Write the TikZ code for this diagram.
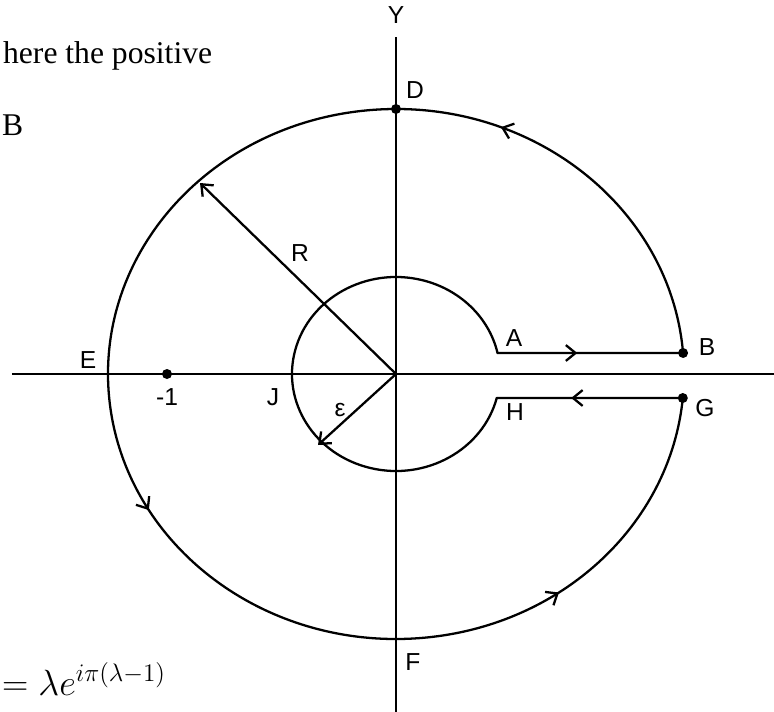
\documentclass[tikz,border=0pt]{standalone}
\usepackage{fontspec}
\setmainfont{Liberation Sans}
\newfontfamily\bodyserif{Liberation Serif}
\usepackage{amsmath}
\usepackage{tikz}
\usetikzlibrary{positioning}
\usetikzlibrary{calc}
\usetikzlibrary{arrows.meta}
\usetikzlibrary{decorations.markings}

\newcommand{\labelfont}{\fontsize{14}{16}\selectfont}

\begin{document}
\begin{tikzpicture}[x=0.02cm, y=0.02cm, line width=1.3pt,
    contour/.style={line join=round, line cap=round},
    flow/.style={postaction={decorate, decoration={markings,
        mark=at position #1 with {\arrow{Straight Barb[length=5.5pt,width=9pt]}}}}},
    radius arrow/.style={-{Straight Barb[length=5.5pt,width=9pt]}},
    axis/.style={line width=1.2pt},
    lab/.style={font=\labelfont, inner sep=0pt}]

    \clip (-396,-337) rectangle (378,374);

    % page text round the figure
    \node [font=\bodyserif\fontsize{18}{22}\selectfont, anchor=base west, inner sep=0pt] (txtA) at (-394,311) {here the positive};
    \node [font=\bodyserif\fontsize{18}{22}\selectfont, anchor=base west, inner sep=0pt] (txtB) at (-395,239) {B};
    \node [font=\fontsize{20}{24}\selectfont, anchor=base west, inner sep=0pt] (txtC) at (-395,-321) {$=\lambda e^{i\pi(\lambda-1)}$};

    % axes
    \coordinate (O) at (0,0);
    \coordinate (xl) at (-384,0);
    \coordinate (xr) at (380,0);
    \coordinate (yt) at (0,337);
    \coordinate (yb) at (0,-340);
    \draw [axis] (xl) -- (xr);
    \draw [axis] (yb) -- (yt);

    % contour points
    \coordinate (A) at (12.5:104 and 97);
    \coordinate (B) at (4.55:288 and 265);
    \coordinate (G) at (-5.2:288 and 265);
    \coordinate (H) at (-14.3:104 and 97);
    \coordinate (D) at (0,265);
    \coordinate (m1) at (-229,0);
    \coordinate (Rend) at (-196,191);
    \coordinate (Eend) at (-78,-71);

    \draw [contour, flow=0.43] (A) -- (B);
    \draw [contour, flow=0.181, flow=0.586, flow=0.859] (B) arc [start angle=4.55, end angle=354.8, x radius=288, y radius=265];
    \draw [contour, flow=0.6] (G) -- (H);
    \draw [contour] (H) arc [start angle=-14.3, end angle=-347.5, x radius=104, y radius=97];

    \draw [radius arrow] (O) -- (Rend);
    \draw [radius arrow] (O) -- (Eend);

    \fill (B) circle [radius=5];
    \fill (G) circle [radius=5];
    \fill (D) circle [radius=5];
    \fill (m1) circle [radius=5];

    % labels
    \node [lab] (Y) at (0,359) {Y};
    \node [lab] (lD) at (19,284) {D};
    \node [lab] (lE) at (-308,14) {E};
    \node [lab] (lm1) at (-229,-23) {-1};
    \node [lab] (lJ) at (-123,-23) {J};
    \node [lab] (lA) at (118,36) {A};
    \node [lab] (lB) at (311,27) {B};
    \node [lab] (lG) at (309,-34) {G};
    \node [lab] (lH) at (119,-38) {H};
    \node [lab] (lF) at (17,-288) {F};
    \node [lab] (lR) at (-96,121) {R};
    \node [lab] (leps) at (-56,-36) {ε};
\end{tikzpicture}
\end{document}
